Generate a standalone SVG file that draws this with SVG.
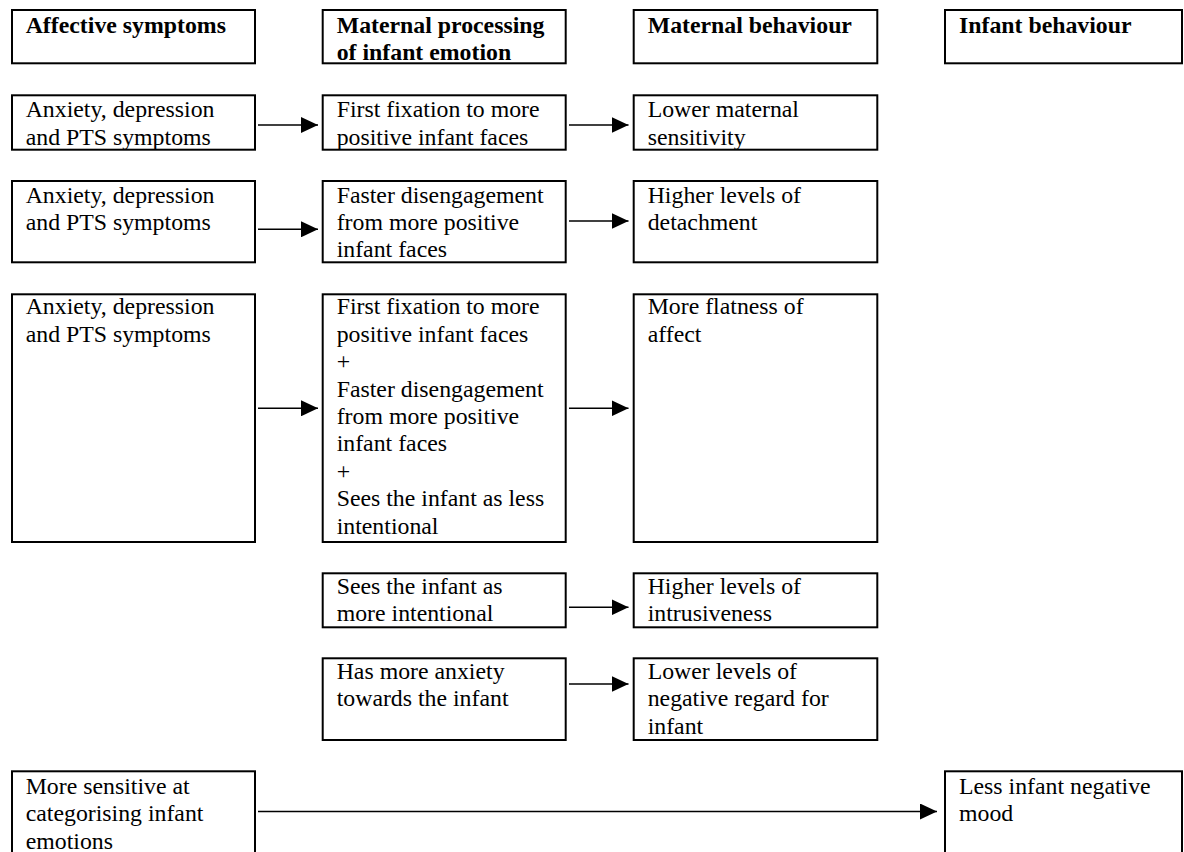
<svg xmlns="http://www.w3.org/2000/svg" width="1184" height="852" viewBox="0 0 1184 852">
<style>
.box{fill:#fff;stroke:#000;stroke-width:2}
.t{font-family:"Liberation Serif","Times New Roman",serif;font-size:23.8px;fill:#000}
.h{font-weight:bold}
.c{stroke:#000;stroke-width:1.4;fill:none;marker-end:url(#ah)}
</style>
<defs>
<marker id="ah" markerUnits="userSpaceOnUse" markerWidth="17" markerHeight="16" refX="17" refY="8" orient="auto" viewBox="0 0 17 16">
<path d="M0,0 L17,8 L0,16 z" fill="#000"/>
</marker>
</defs>
<rect width="1184" height="852" fill="#fff"/>
<g id="h1"><rect class="box" x="12" y="10" width="243" height="53.3"/><text class="t h" x="25.7" y="32.5">Affective symptoms</text></g>
<g id="h2"><rect class="box" x="322.7" y="10" width="243" height="53.3"/><text class="t h" x="336.7" y="32.5">Maternal processing<tspan x="336.7" dy="27.4">of infant emotion</tspan></text></g>
<g id="h3"><rect class="box" x="633.7" y="10" width="243.6" height="53.3"/><text class="t h" x="647.7" y="32.5">Maternal behaviour</text></g>
<g id="h4"><rect class="box" x="945" y="10" width="237" height="53.3"/><text class="t h" x="959" y="32.5">Infant behaviour</text></g>

<g id="r1a"><rect class="box" x="12" y="95.3" width="243" height="54.4"/><text class="t" x="25.7" y="117.3">Anxiety, depression<tspan x="25.7" dy="27.4">and PTS symptoms</tspan></text></g>
<g id="r1b"><rect class="box" x="322.7" y="95.3" width="243" height="54.4"/><text class="t" x="336.7" y="117.3">First fixation to more<tspan x="336.7" dy="27.4">positive infant faces</tspan></text></g>
<g id="r1c"><rect class="box" x="633.7" y="95.3" width="243.6" height="54.4"/><text class="t" x="647.7" y="117.3">Lower maternal<tspan x="647.7" dy="27.4">sensitivity</tspan></text></g>

<g id="r2a"><rect class="box" x="12" y="181" width="243" height="81.3"/><text class="t" x="25.7" y="202.5">Anxiety, depression<tspan x="25.7" dy="27.4">and PTS symptoms</tspan></text></g>
<g id="r2b"><rect class="box" x="322.7" y="181" width="243" height="81.3"/><text class="t" x="336.7" y="202.5">Faster disengagement<tspan x="336.7" dy="27.4">from more positive</tspan><tspan x="336.7" dy="27.4">infant faces</tspan></text></g>
<g id="r2c"><rect class="box" x="633.7" y="181" width="243.6" height="81.3"/><text class="t" x="647.7" y="202.5">Higher levels of<tspan x="647.7" dy="27.4">detachment</tspan></text></g>

<g id="r3a"><rect class="box" x="12" y="294.3" width="243" height="247.7"/><text class="t" x="25.7" y="314.3">Anxiety, depression<tspan x="25.7" dy="27.4">and PTS symptoms</tspan></text></g>
<g id="r3b"><rect class="box" x="322.7" y="294.3" width="243" height="247.7"/><text class="t" x="336.7" y="314.3">First fixation to more<tspan x="336.7" dy="27.4">positive infant faces</tspan><tspan x="336.7" dy="27.4">+</tspan><tspan x="336.7" dy="27.4">Faster disengagement</tspan><tspan x="336.7" dy="27.4">from more positive</tspan><tspan x="336.7" dy="27.4">infant faces</tspan><tspan x="336.7" dy="27.4">+</tspan><tspan x="336.7" dy="27.4">Sees the infant as less</tspan><tspan x="336.7" dy="27.4">intentional</tspan></text></g>
<g id="r3c"><rect class="box" x="633.7" y="294.3" width="243.6" height="247.7"/><text class="t" x="647.7" y="314.3">More flatness of<tspan x="647.7" dy="27.4">affect</tspan></text></g>

<g id="r4b"><rect class="box" x="322.7" y="573.3" width="243" height="54"/><text class="t" x="336.7" y="594">Sees the infant as<tspan x="336.7" dy="27.4">more intentional</tspan></text></g>
<g id="r4c"><rect class="box" x="633.7" y="573.3" width="243.6" height="54"/><text class="t" x="647.7" y="594">Higher levels of<tspan x="647.7" dy="27.4">intrusiveness</tspan></text></g>

<g id="r5b"><rect class="box" x="322.7" y="658.3" width="243" height="81.7"/><text class="t" x="336.7" y="679">Has more anxiety<tspan x="336.7" dy="27.4">towards the infant</tspan></text></g>
<g id="r5c"><rect class="box" x="633.7" y="658.3" width="243.6" height="81.7"/><text class="t" x="647.7" y="679">Lower levels of<tspan x="647.7" dy="27.4">negative regard for</tspan><tspan x="647.7" dy="27.4">infant</tspan></text></g>

<g id="r6a"><rect class="box" x="12" y="771.3" width="243" height="120"/><text class="t" x="25.7" y="793.7">More sensitive at<tspan x="25.7" dy="27.4">categorising infant</tspan><tspan x="25.7" dy="27.4">emotions</tspan></text></g>
<g id="r6d"><rect class="box" x="945" y="771.3" width="237" height="120"/><text class="t" x="959" y="793.7">Less infant negative<tspan x="959" dy="27.4">mood</tspan></text></g>

<g id="connectors">
<line class="c" x1="258" y1="125" x2="318" y2="125"/>
<line class="c" x1="569" y1="125" x2="628.5" y2="125"/>
<line class="c" x1="258" y1="229.3" x2="318" y2="229.3"/>
<line class="c" x1="569" y1="221" x2="628.5" y2="221"/>
<line class="c" x1="258" y1="408.3" x2="318" y2="408.3"/>
<line class="c" x1="569" y1="408.3" x2="628.5" y2="408.3"/>
<line class="c" x1="569" y1="607.3" x2="628.5" y2="607.3"/>
<line class="c" x1="569" y1="684" x2="628.5" y2="684"/>
<line class="c" x1="258" y1="811.5" x2="937" y2="811.5"/>
</g>
</svg>
